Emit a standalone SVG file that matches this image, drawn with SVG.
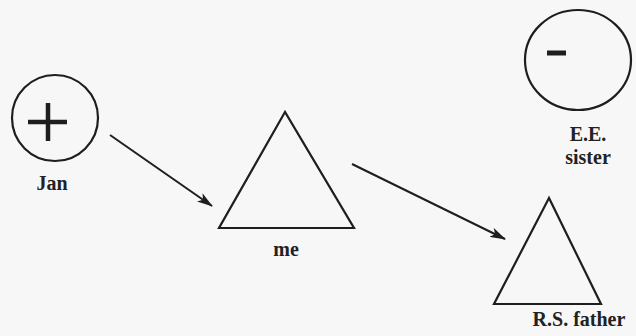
<svg xmlns="http://www.w3.org/2000/svg" width="636" height="336" viewBox="0 0 636 336">
<style>
.s{fill:none;stroke:#1e1e1e;stroke-width:2.2}
.t{font-family:"Liberation Serif",serif;font-weight:bold;font-size:20px;fill:#222;text-anchor:middle}
.c{stroke:#1e1e1e;stroke-width:2}
</style>
<defs>
<marker id="ah" markerWidth="16" markerHeight="10" refX="15" refY="5" orient="auto" markerUnits="userSpaceOnUse">
<path d="M0,0 L16,5 L0,10 L4,5 Z" fill="#1e1e1e"/>
</marker>
</defs>
<rect width="636" height="336" fill="#f7f7f7"/>
<g id="jan">
<circle class="s" cx="55" cy="118" r="43"/>
<path d="M28,122 H67 M48,103 V141" stroke="#1e1e1e" stroke-width="4.5" fill="none"/>
<text class="t" x="52" y="190">Jan</text>
</g>
<g id="me">
<polygon class="s" points="285,112 219,228 354,228"/>
<text class="t" x="286" y="256">me</text>
</g>
<g id="sister">
<ellipse class="s" cx="578" cy="60" rx="53" ry="50"/>
<path d="M547,53 H566" stroke="#1e1e1e" stroke-width="5"/>
<text class="t" x="588" y="141">E.E.</text>
<text class="t" x="588" y="164">sister</text>
</g>
<g id="father">
<polygon class="s" points="549,198 494,304 601,304"/>
<text class="t" x="579" y="326">R.S. father</text>
</g>
<g id="connectors">
<line class="c" x1="110" y1="135" x2="212" y2="206" marker-end="url(#ah)"/>
<line class="c" x1="352" y1="164" x2="505" y2="239" marker-end="url(#ah)"/>
</g>
</svg>
